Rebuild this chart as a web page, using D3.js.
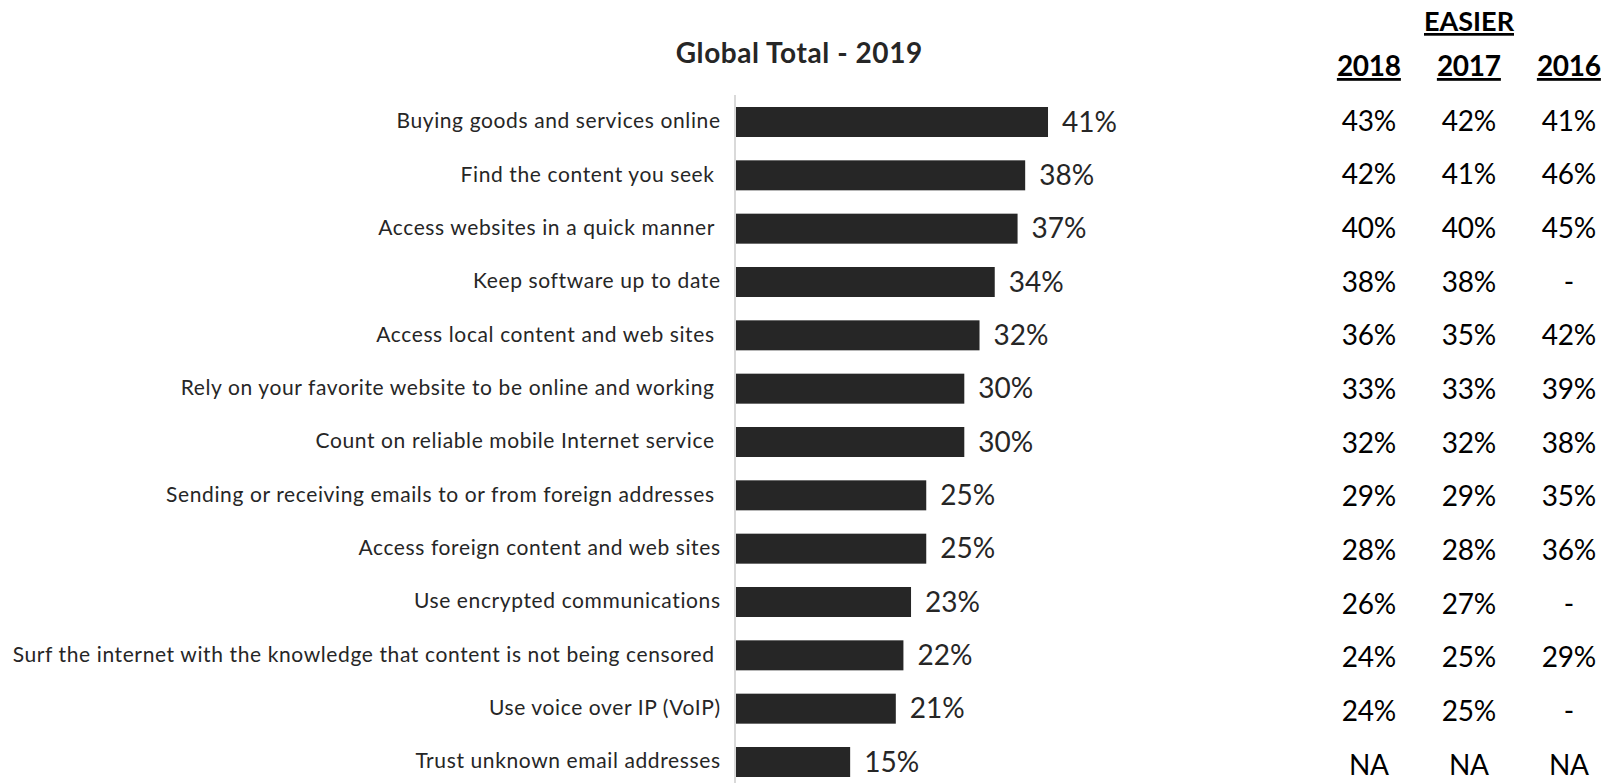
<!DOCTYPE html>
<html><head><meta charset="utf-8">
<script src="https://cdn.jsdelivr.net/npm/d3@7"></script>
<style>
html,body{margin:0;padding:0;background:#fff;}
svg{display:block;}
text{font-family:Lato, "Open Sans", sans-serif;}
</style></head>
<body>
<svg id="chart" width="1606" height="783"></svg>
<script>
const categories = [
  "Buying goods and services online",
  "Find the content you seek ",
  "Access websites in a quick manner ",
  "Keep software up to date",
  "Access local content and web sites ",
  "Rely on your favorite website to be online and working ",
  "Count on reliable mobile Internet service ",
  "Sending or receiving emails to or from foreign addresses ",
  "Access foreign content and web sites",
  "Use encrypted communications",
  "Surf the internet with the knowledge that content is not being censored ",
  "Use voice over IP (VoIP)",
  "Trust unknown email addresses"
];
const values2019 = [41, 38, 37, 34, 32, 30, 30, 25, 25, 23, 22, 21, 15];
const values2018 = [43, 42, 40, 38, 36, 33, 32, 29, 28, 26, 24, 24, null];
const values2017 = [42, 41, 40, 38, 35, 33, 32, 29, 28, 27, 25, 25, null];
const values2016 = [41, 46, 45, "-", 42, 39, 38, 35, 36, "-", 29, "-", null];
const tableYears = ["2018", "2017", "2016"];
const tableSeries = [values2018, values2017, values2016];
const chartTitle = "Global Total - 2019";
const tableTitle = "EASIER";

const svg = d3.select("#chart");
const fmt = v => v === null ? "NA" : (v === "-" ? "-" : v + "%");

// letter-spacing that makes a sample text reach a target width
function fitSpacing(str, size, weight, target) {
  const t = svg.append("text").attr("font-size", size).attr("font-weight", weight)
    .style("white-space", "pre").text(str);
  const w = t.node().getComputedTextLength();
  t.remove();
  return (target - w) / str.length;
}

const x = d3.scaleLinear().domain([0, 100]).range([736, 736 + 761]);
const y = d3.scalePoint().domain(categories).range([122, 762]);
const barH = 30;

const lsTitle = fitSpacing(chartTitle, 28, "bold", 247);
const lsCat = fitSpacing("Surf the internet with the knowledge that content is not being censored", 21, "normal", 702);
const lsVal = fitSpacing("41%", 28, "normal", 55);
const lsTab = fitSpacing("43%", 28, "normal", 54);
const lsHead = fitSpacing("2018", 28, "bold", 64);
const lsEasier = fitSpacing(tableTitle, 27, "bold", 90);

// title
svg.append("text").attr("x", 799 + lsTitle / 2).attr("y", 63)
  .attr("text-anchor", "middle").attr("font-weight", "bold")
  .attr("font-size", 28).attr("letter-spacing", lsTitle)
  .attr("fill", "#262626").text(chartTitle);

// axis line
svg.append("line").attr("x1", x(0) - 1).attr("x2", x(0) - 1)
  .attr("y1", 95).attr("y2", 783).attr("stroke", "#d9d9d9").attr("stroke-width", 2);

// bars
svg.selectAll("rect.bar").data(categories).join("rect")
  .attr("class", "bar")
  .attr("x", x(0))
  .attr("y", d => y(d) - barH / 2)
  .attr("width", (d, i) => x(values2019[i]) - x(0))
  .attr("height", barH)
  .attr("fill", "#262626");

// category labels
svg.selectAll("text.cat").data(categories).join("text")
  .attr("class", "cat")
  .attr("x", 720 + lsCat)
  .attr("y", d => y(d) - 1)
  .attr("dy", "0.35em")
  .attr("text-anchor", "end")
  .attr("font-size", 21)
  .attr("letter-spacing", lsCat)
  .attr("fill", "#262626")
  .style("white-space", "pre")
  .text(d => d);

// value labels
svg.selectAll("text.val").data(categories).join("text")
  .attr("class", "val")
  .attr("x", (d, i) => x(values2019[i]) + 14)
  .attr("y", d => y(d))
  .attr("dy", "0.35em")
  .attr("font-size", 28)
  .attr("letter-spacing", lsVal)
  .attr("fill", "#262626")
  .text((d, i) => values2019[i] + "%");

// table
const colX = d3.scalePoint().domain(tableYears).range([1369, 1569]);
svg.append("text").attr("x", colX("2017") + lsEasier / 2).attr("y", 31)
  .attr("text-anchor", "middle").attr("font-weight", "bold")
  .attr("font-size", 27).attr("letter-spacing", lsEasier).attr("fill", "#000")
  .attr("text-decoration", "underline").text(tableTitle);

tableYears.forEach((yr, j) => {
  svg.append("text").attr("x", colX(yr) + lsHead / 2).attr("y", 76)
    .attr("text-anchor", "middle").attr("font-weight", "bold")
    .attr("font-size", 28).attr("letter-spacing", lsHead).attr("fill", "#000")
    .attr("text-decoration", "underline").text(yr);
  svg.selectAll("text.col" + j).data(categories).join("text")
    .attr("class", "col" + j)
    .attr("x", colX(yr) + lsTab / 2)
    .attr("y", (d, i) => y(d) - 1 + i * 0.33)
    .attr("dy", "0.35em")
    .attr("text-anchor", "middle")
    .attr("font-size", 28)
    .attr("letter-spacing", lsTab)
    .attr("fill", "#000")
    .text((d, i) => fmt(tableSeries[j][i]));
});
</script>
</body></html>
